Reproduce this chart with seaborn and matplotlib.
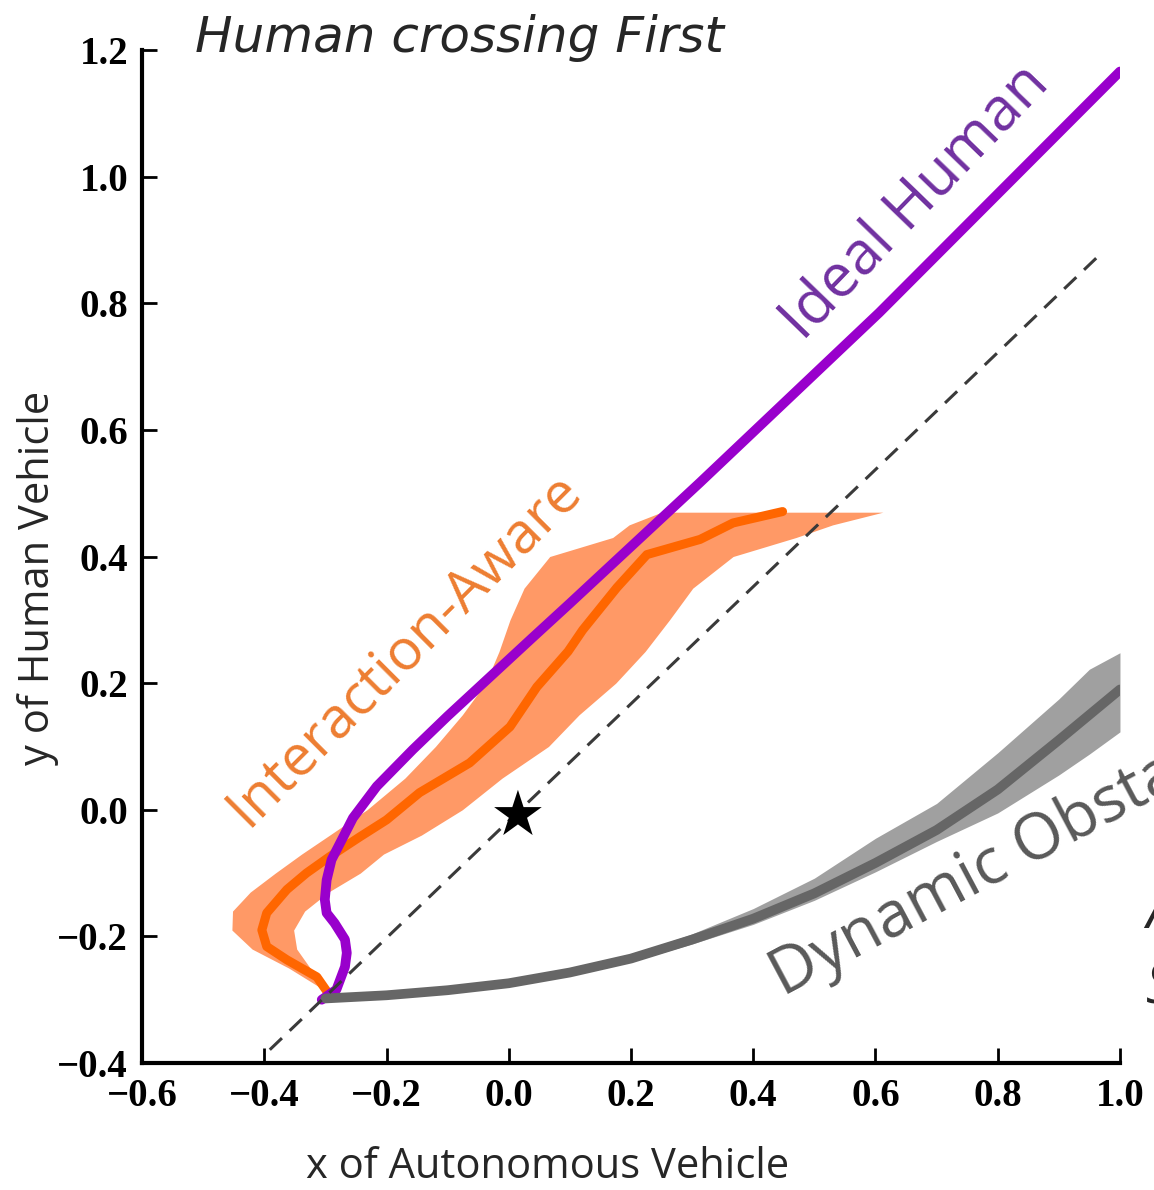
import matplotlib
matplotlib.use("Agg")
import matplotlib.pyplot as plt
import seaborn as sns

# ideal human trajectory (x, y)
ideal_x = [-0.306, -0.282, -0.268, -0.265, -0.268, -0.285, -0.298, -0.301, -0.298, -0.290,
           -0.273, -0.255, -0.216, -0.157, -0.100, 0.039, 0.100, 0.313, 0.606, 1.0]
ideal_y = [-0.300, -0.284, -0.248, -0.226, -0.205, -0.179, -0.163, -0.142, -0.111, -0.079,
           -0.047, -0.013, 0.037, 0.095, 0.148, 0.272, 0.326, 0.517, 0.785, 1.166]

# interaction-aware mean trajectory
aware_x = [-0.296, -0.314, -0.363, -0.396, -0.404, -0.396, -0.363, -0.331, -0.293, -0.244,
           -0.200, -0.146, -0.064, 0.002, 0.046, 0.097, 0.121, 0.177, 0.226, 0.313, 0.367, 0.448]
aware_y = [-0.289, -0.264, -0.237, -0.216, -0.190, -0.163, -0.126, -0.100, -0.074, -0.043,
           -0.016, 0.027, 0.074, 0.131, 0.194, 0.250, 0.284, 0.351, 0.403, 0.427, 0.453, 0.471]

# interaction-aware spread (x range at each y)
band_y = [-0.29, -0.25, -0.22, -0.19, -0.16, -0.13, -0.10, -0.07, -0.04, 0.00, 0.05,
          0.10, 0.15, 0.20, 0.25, 0.30, 0.35, 0.40, 0.43, 0.45, 0.47]
band_left = [-0.293, -0.360, -0.420, -0.453, -0.452, -0.423, -0.382, -0.339, -0.293, -0.232, -0.170,
             -0.120, -0.076, -0.038, -0.016, 0.002, 0.025, 0.067, 0.170, 0.197, 0.250]
band_right = [-0.293, -0.325, -0.347, -0.352, -0.334, -0.295, -0.243, -0.205, -0.143, -0.076, -0.011,
              0.065, 0.115, 0.175, 0.223, 0.263, 0.301, 0.367, 0.470, 0.530, 0.612]

# dynamic obstacle trajectory with spread
obst_x = [-0.30, -0.20, -0.10, 0.00, 0.10, 0.20, 0.30, 0.40, 0.50, 0.60, 0.70, 0.80, 0.90, 0.95, 1.00]
obst_y = [-0.298, -0.293, -0.285, -0.274, -0.257, -0.235, -0.205, -0.172, -0.132, -0.084,
          -0.032, 0.032, 0.110, 0.150, 0.190]
obst_lo = [-0.300, -0.296, -0.288, -0.278, -0.262, -0.240, -0.212, -0.181, -0.143, -0.098,
           -0.050, -0.005, 0.055, 0.088, 0.123]
obst_hi = [-0.296, -0.290, -0.282, -0.270, -0.252, -0.229, -0.196, -0.156, -0.108, -0.045,
           0.010, 0.090, 0.175, 0.222, 0.248]

# reference diagonal and crossing point
diag_x = [-0.391, 0.962]
diag_y = [-0.379, 0.872]
star_x = [0.015]
star_y = [-0.008]

xticks = [-0.6, -0.4, -0.2, 0.0, 0.2, 0.4, 0.6, 0.8, 1.0]
yticks = [-0.4, -0.2, 0.0, 0.2, 0.4, 0.6, 0.8, 1.0, 1.2]

sns.set_style("ticks")
plt.rcParams["font.family"] = ["Open Sans", "DejaVu Sans"]

fig = plt.figure(figsize=(11.54, 11.9), dpi=100)
ax = fig.add_axes([0.1231, 0.1067, 0.8474, 0.8513])

ax.fill_betweenx(band_y, band_left, band_right, color="#FF9966", lw=0, zorder=1)
sns.lineplot(x=aware_x, y=aware_y, sort=False, estimator=None, color="#FF6600", lw=6.5, ax=ax, zorder=2)
sns.lineplot(x=ideal_x, y=ideal_y, sort=False, estimator=None, color="#9900CC", lw=7, ax=ax, zorder=3)
ax.fill_between(obst_x, obst_lo, obst_hi, color="#A0A0A0", lw=0, zorder=4)
sns.lineplot(x=obst_x, y=obst_y, sort=False, estimator=None, color="#666666", lw=7, ax=ax, zorder=5)
ax.plot(diag_x, diag_y, color="#3A3A3A", lw=2.2, dashes=(5.5, 3.5), zorder=6)
sns.scatterplot(x=star_x, y=star_y, marker="*", s=1300, color="black", edgecolor="none", ax=ax, zorder=7)

ax.set_xlim(-0.6, 1.0)
ax.set_ylim(-0.4, 1.2)
ax.set_xticks(xticks)
ax.set_yticks(yticks)
ax.set_xticklabels([f"{v:.1f}".replace("-", "\u2212") for v in xticks])
ax.set_yticklabels([f"{v:.1f}".replace("-", "\u2212") for v in yticks])
for lab in ax.get_xticklabels() + ax.get_yticklabels():
    lab.set_fontfamily("Liberation Serif")
    lab.set_fontweight("bold")
    lab.set_fontsize(28)
ax.tick_params(direction="in", length=11, width=2, colors="black")
ax.tick_params(axis="x", pad=11)
ax.tick_params(axis="y", pad=10)
sns.despine(ax=ax)
for side in ["left", "bottom"]:
    ax.spines[side].set_linewidth(3)
    ax.spines[side].set_color("black")

ax.set_xlabel("x of Autonomous Vehicle", fontsize=30, color="#262626")
ax.set_ylabel("y of Human Vehicle", fontsize=30, color="#262626")
ax.xaxis.set_label_coords(0.415, -0.082)
ax.yaxis.set_label_coords(-0.085, 0.479)

ax.text(0.664, 0.959, "Ideal Human", color="#7030A0", fontsize=43, rotation=46,
        rotation_mode="anchor", ha="center", va="center")
ax.text(-0.170, 0.253, "Interaction-Aware", color="#ED7D31", fontsize=41, rotation=45,
        rotation_mode="anchor", ha="center", va="center")
ax.text(0.448, -0.295, "Dynamic Obstacle", color="#595959", fontsize=46, rotation=28,
        rotation_mode="anchor", ha="left", va="baseline", clip_on=False)

fig.text(195 / 1154, 1 - 38 / 1190, "Human crossing First", fontsize=36, style="italic",
         family="DejaVu Sans", color="#262626", ha="left", va="center")
fig.text(1146 / 1154, 1 - 928 / 1190, "A", fontsize=40, style="italic", color="#262626",
         ha="left", va="baseline")
fig.text(1146 / 1154, 1 - 1003 / 1190, "S", fontsize=40, style="italic", color="#262626",
         ha="left", va="baseline")

fig.savefig("out.png", dpi=100)
